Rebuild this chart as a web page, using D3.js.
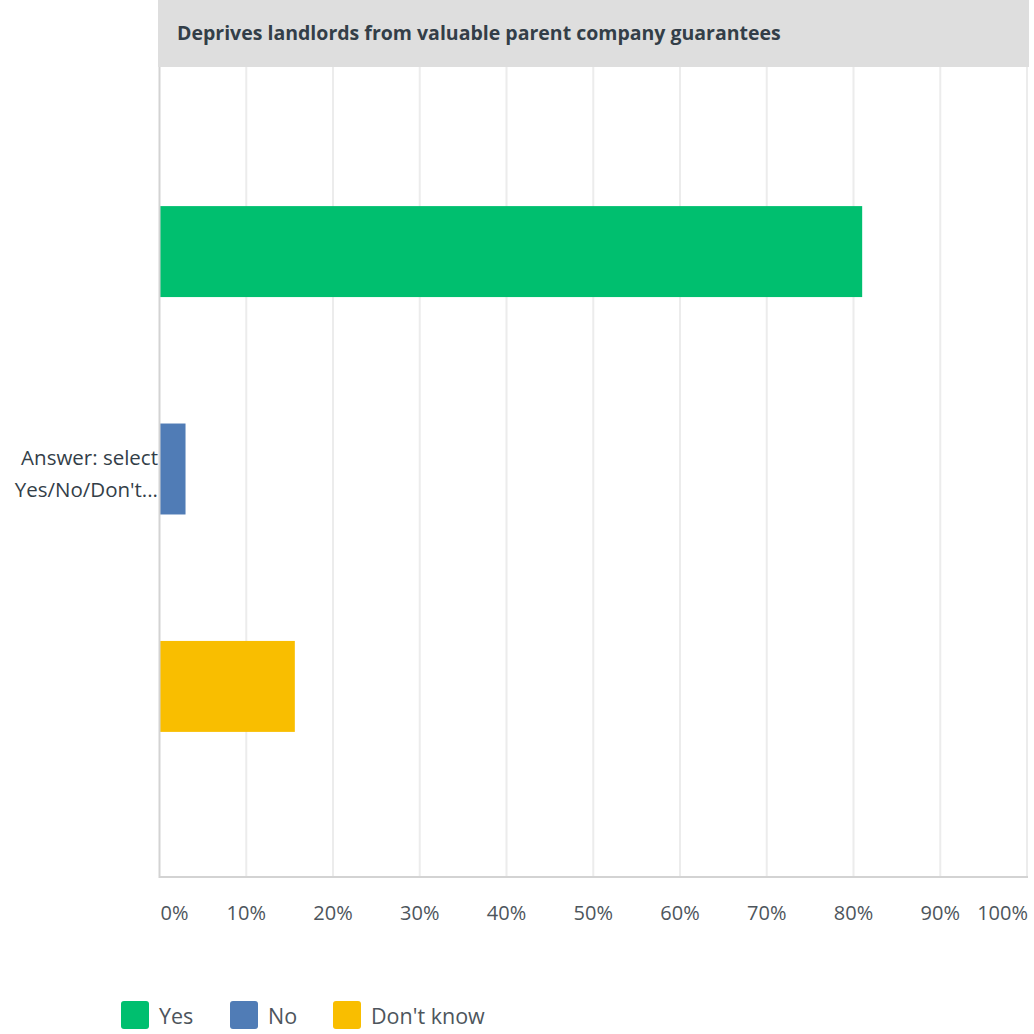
<!DOCTYPE html>
<html>
<head>
<meta charset="utf-8">
<script src="https://cdn.jsdelivr.net/npm/d3@7"></script>
<style>
  html, body { margin: 0; padding: 0; background: #fff; }
  svg { display: block; font-family: "Open Sans", "Noto Sans", sans-serif; }
</style>
</head>
<body>
<svg id="chart" width="1034" height="1034"></svg>
<script>
// Survey question and its single answer category
const title = "Deprives landlords from valuable parent company guarantees";
const categoryLines = ["Answer: select", "Yes/No/Don't..."];

// Response options and their share of responses (%)
const series = ["Yes", "No", "Don't know"];
const values = [81.0, 3.0, 15.6];
const colors = ["#00bf6f", "#507cb6", "#f9be00"];

// Axis ticks
const ticks = [0, 10, 20, 30, 40, 50, 60, 70, 80, 90, 100];
const tickLabels = ticks.map(t => t + "%");

const svg = d3.select("#chart");
const plot = { left: 159.5, right: 1027, top: 67, bottom: 877 };

const x = d3.scaleLinear().domain([0, 100]).range([plot.left, plot.right]);
const y = d3.scaleBand().domain(series)
  .range([80, 858])
  .paddingInner(0.5816).paddingOuter(0.58);

// Header band with the question text
svg.append("rect")
  .attr("x", 158).attr("y", 0)
  .attr("width", 1029 - 158).attr("height", plot.top)
  .attr("fill", "#dedede");
svg.append("text")
  .attr("x", 177).attr("y", 40)
  .attr("fill", "#333e48")
  .attr("font-size", 19.5).attr("font-weight", 700)
  .text(title);

// Vertical gridlines
svg.append("g").selectAll("line")
  .data(ticks.slice(1))
  .join("line")
  .attr("x1", d => x(d)).attr("x2", d => x(d))
  .attr("y1", plot.top).attr("y2", plot.bottom)
  .attr("stroke", "#ececec").attr("stroke-width", 2);

// Bars
svg.append("g").selectAll("rect")
  .data(series)
  .join("rect")
  .attr("x", x(0))
  .attr("y", d => y(d))
  .attr("width", (d, i) => x(values[i]) - x(0))
  .attr("height", y.bandwidth())
  .attr("fill", (d, i) => colors[i]);

// Axis lines (left and bottom)
svg.append("path")
  .attr("d", `M${plot.left},${plot.top}V${plot.bottom}H${plot.right + 1}`)
  .attr("fill", "none")
  .attr("stroke", "#d3d3d3").attr("stroke-width", 2);

// Tick labels; the end labels are kept inside the plot width
svg.append("g").selectAll("text")
  .data(ticks)
  .join("text")
  .attr("x", (d, i) => i === 0 ? x(d) + 1 : i === ticks.length - 1 ? x(d) + 1 : x(d))
  .attr("y", 920)
  .attr("text-anchor", (d, i) => i === 0 ? "start" : i === ticks.length - 1 ? "end" : "middle")
  .attr("fill", "#4d555c")
  .attr("font-size", 20)
  .text((d, i) => tickLabels[i]);

// Category label, right-aligned against the axis
const catText = svg.append("text")
  .attr("text-anchor", "end")
  .attr("fill", "#333e48")
  .attr("font-size", 20.5);
categoryLines.forEach((line, i) => {
  catText.append("tspan")
    .attr("x", 158)
    .attr("y", 465 + i * 32)
    .text(line);
});

// Legend
const legendX = [121, 230, 333];
const legend = svg.append("g").selectAll("g")
  .data(series)
  .join("g")
  .attr("transform", (d, i) => `translate(${legendX[i]},1001)`);
legend.append("rect")
  .attr("width", 28).attr("height", 28)
  .attr("rx", 3)
  .attr("fill", (d, i) => colors[i]);
legend.append("text")
  .attr("x", 38).attr("y", 23)
  .attr("fill", "#4d555c")
  .attr("font-size", 21.5)
  .text(d => d);
</script>
</body>
</html>
